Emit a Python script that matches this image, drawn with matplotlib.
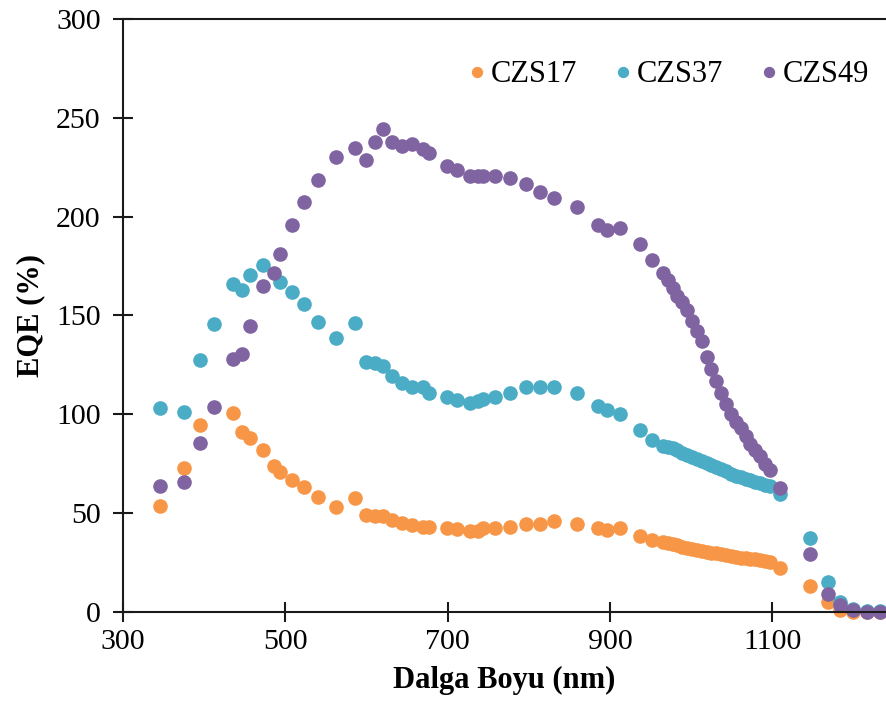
import matplotlib
matplotlib.use("Agg")
import matplotlib.pyplot as plt

# Wavelength grids (nm) and EQE values (%) for each sample
x17 = [345, 375, 395, 435, 447, 457, 472, 486, 493, 508, 523, 540, 562, 586,
       600, 610, 620, 632, 644, 656, 669, 677, 699, 712, 727, 737, 744, 758,
       777, 796, 814, 831, 859, 885, 896, 912, 937, 952,
       965, 971, 977, 983, 989, 995, 1001, 1007, 1013, 1019, 1025, 1031, 1037,
       1043, 1049, 1055, 1061, 1067, 1073, 1079, 1085, 1091, 1097, 1110,
       1146, 1168, 1183, 1199, 1216, 1232]
eqe17 = [53.5, 73, 94.5, 100.5, 91, 88, 82, 74, 71, 67, 63, 58, 53, 57.7,
         49, 48.6, 48.3, 46.3, 45, 44, 43, 43, 42.5, 42, 41, 41, 42.5, 42.5,
         43, 44.5, 44.5, 46, 44.5, 42.5, 41.5, 42.5, 38.4, 36.4,
         35.5, 35, 34.5, 34, 33, 32.4, 32, 31.4, 31, 30.4, 30, 29.6, 29.2,
         28.8, 28.3, 27.9, 27.5, 27.2, 26.9, 26.6, 26.2, 25.8, 25.2, 22.3,
         13, 5, 1, 0, 0, 0]

x37 = [345, 375, 395, 412, 435, 447, 457, 472, 493, 508, 523, 540, 562, 586,
       600, 610, 620, 632, 644, 656, 669, 677, 699, 712, 727, 737, 744, 758,
       777, 796, 814, 831, 859, 885, 896, 912, 937, 952,
       965, 971, 977, 983, 989, 995, 1001, 1007, 1013, 1019, 1025, 1031, 1037,
       1043, 1049, 1055, 1061, 1067, 1073, 1079, 1085, 1091, 1097, 1110,
       1146, 1168, 1183, 1199, 1216, 1232]
eqe37 = [103, 101, 127.5, 145.7, 166, 163, 170.5, 175.5, 167, 162, 156, 146.7, 138.6, 146,
         126.5, 126, 124.4, 119.4, 116, 114, 113.6, 111, 109, 107, 105.6, 106.7, 107.6, 109,
         111, 113.6, 114, 114, 111, 104, 102, 100, 92, 87,
         84, 83.5, 83, 82, 80.5, 79.5, 78.5, 77.5, 76.5, 75.5, 74.5, 73.5, 72.5,
         71.2, 70, 69, 68.2, 67.4, 66.6, 65.8, 65, 64.4, 63.8, 59.5,
         37.4, 15, 5, 1.5, 0.5, 0.5]

x49 = [345, 375, 395, 412, 435, 447, 457, 472, 486, 493, 508, 523, 540, 562, 586,
       600, 610, 620, 632, 644, 656, 669, 677, 699, 712, 727, 737, 744, 758,
       777, 796, 814, 831, 859, 885, 896, 912, 937, 952,
       965, 971, 977, 983, 989, 995, 1001, 1007, 1013, 1019, 1025, 1031, 1037,
       1043, 1049, 1055, 1061, 1067, 1073, 1079, 1085, 1091, 1097, 1110,
       1146, 1168, 1183, 1199, 1216, 1232]
eqe49 = [63.7, 65.7, 85.5, 103.7, 128, 130.5, 144.7, 165, 171.5, 181, 196, 207.4, 218.5, 230, 234.7,
         228.6, 237.7, 244.3, 238, 235.7, 237, 234, 232, 225.6, 223.6, 220.5, 220.5, 220.5, 220.5,
         219.5, 216.5, 212.4, 209.4, 205, 195.8, 193, 194.2, 186, 178,
         171.5, 168, 164, 160, 157, 153, 147, 142, 137, 129, 123, 117, 111,
         105, 100, 96, 93, 89, 85, 82, 79, 75, 72, 62.7,
         29.3, 9, 3.5, 1, 0, 0]

labels = ["CZS17", "CZS37", "CZS49"]
colors = ["#F79646", "#4BACC6", "#8064A2"]

xticks = [300, 500, 700, 900, 1100]
yticks = [0, 50, 100, 150, 200, 250, 300]

plt.rcParams["font.family"] = ["Liberation Serif", "DejaVu Serif"]

fig = plt.figure(figsize=(8.86, 7.16), dpi=100)
ax = fig.add_axes([0.1388, 0.1453, 0.8612, 0.8282])

for xs, ys, lab, col in zip([x17, x37, x49], [eqe17, eqe37, eqe49], labels, colors):
    ax.plot(xs, ys, linestyle="none", marker="o", markersize=9.5,
            markerfacecolor=col, markeredgecolor=col, label=lab, clip_on=False)

ax.set_xlim(300, 1240)
ax.set_ylim(0, 300)
ax.set_xticks(xticks)
ax.set_yticks(yticks)

for side in ["left", "bottom", "top"]:
    ax.spines[side].set_linewidth(1.5)
    ax.spines[side].set_color("#1a1a1a")
ax.spines["right"].set_visible(False)

ax.tick_params(axis="both", direction="inout", length=14, width=1.5,
               color="#1a1a1a", labelsize=21.5)
ax.tick_params(axis="y", pad=9)
ax.tick_params(axis="x", pad=5)

ax.set_xlabel("Dalga Boyu (nm)", fontsize=22, fontweight="bold", labelpad=8)
ax.set_ylabel("EQE (%)", fontsize=22, fontweight="bold", labelpad=8)

ax.legend(loc="center", bbox_to_anchor=(670 / 886, 1 - 75 / 716),
          bbox_transform=fig.transFigure, ncol=3, frameon=False,
          fontsize=22, handlelength=0.4, handletextpad=0.25,
          columnspacing=1.3, markerscale=0.75)

fig.savefig("out.png", dpi=100)
